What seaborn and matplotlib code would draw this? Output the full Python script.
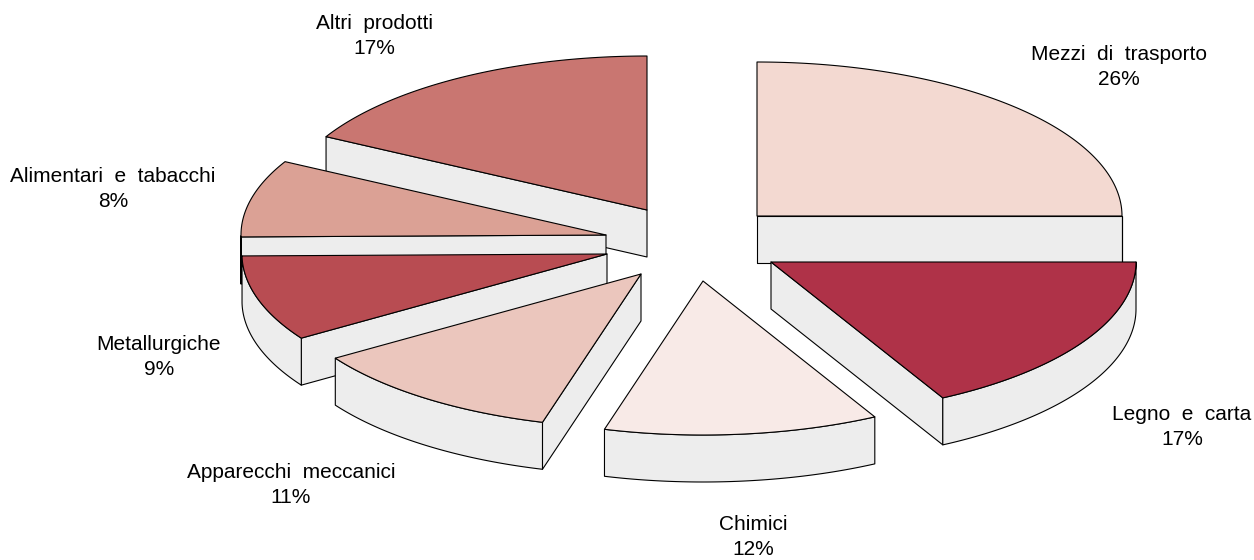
import numpy as np
import matplotlib
matplotlib.use("Agg")
import matplotlib.pyplot as plt
import seaborn as sns

# -----------------------------
# Data
# -----------------------------
categories = ["Mezzi di trasporto", "Legno e carta", "Chimici", "Apparecchi meccanici",
              "Metallurgiche", "Alimentari e tabacchi", "Altri prodotti"]
percent = [26, 17, 12, 11, 9, 8, 17]
# slice sizes as actually drawn (% of the circle)
drawn_share = [25.0, 17.2, 12.15, 11.45, 9.0, 8.1, 17.1]

# -----------------------------
# Style / layout
# -----------------------------
slice_colors = ["#F3D9D1", "#AF3248", "#F8EAE7", "#EBC6BD", "#B84C52", "#DBA195", "#C97671"]
side_color = "#EDEDED"
rx, ry, depth = 365, 154, 47

# top-of-slice apex for each slice, in image pixels
apex_x = [757, 771, 703, 641, 607, 606, 647]
apex_y = [216, 262, 281, 274, 254, 235, 210]
label_x = [1119, 1182, 753, 291, 159, 113, 374]
label_y = [67, 427, 537, 485, 357, 189, 36]
draw_order = [6, 5, 4, 3, 2, 0, 1]

sns.set_theme(style="white")
plt.rcParams["font.family"] = ["Liberation Sans", "DejaVu Sans"]
palette = sns.color_palette(slice_colors)

fig, ax = plt.subplots(figsize=(12.54, 5.6), dpi=100)
ax.set_position([0, 0, 1, 1])
ax.set_xlim(0, 1254)
ax.set_ylim(560, 0)
ax.axis("off")

# angles run clockwise on screen, 0 = pointing right; first slice ends at 0
ends = np.cumsum(drawn_share) * 3.6 - drawn_share[0] * 3.6
starts = ends - np.array(drawn_share) * 3.6


def rim(i, t):
    rad = np.radians(t)
    return apex_x[i] + rx * np.cos(rad), apex_y[i] + ry * np.sin(rad)


def face(xs, ys, color):
    ax.fill(xs, ys, facecolor=color, edgecolor="black", linewidth=0.8, joinstyle="round")


for i in draw_order:
    t = np.linspace(starts[i], ends[i], 120)
    x, y = rim(i, t)

    # radial walls: only those turned towards the viewer
    if np.cos(np.radians(starts[i])) < -1e-9:
        face([apex_x[i], x[0], x[0], apex_x[i]],
             [apex_y[i], y[0], y[0] + depth, apex_y[i] + depth], side_color)
    if np.cos(np.radians(ends[i])) > 1e-9:
        face([apex_x[i], x[-1], x[-1], apex_x[i]],
             [apex_y[i], y[-1], y[-1] + depth, apex_y[i] + depth], side_color)

    # outer wall, only the part facing the viewer
    front = np.sin(np.radians(t)) >= -1e-9
    if front.any():
        xf, yf = x[front], y[front]
        face(np.r_[xf, xf[::-1]], np.r_[yf, yf[::-1] + depth], side_color)

    # top of the slice
    face(np.r_[apex_x[i], x], np.r_[apex_y[i], y], palette[i])

for name, pct, lx, ly in zip(categories, percent, label_x, label_y):
    # the original has wide word gaps
    ax.text(lx, ly, name.replace(" ", "  ") + f"\n{pct}%", ha="center", va="center",
            fontsize=15, color="black", linespacing=1.4)

sns.despine(ax=ax, left=True, bottom=True)
fig.savefig("out.png", dpi=100)
